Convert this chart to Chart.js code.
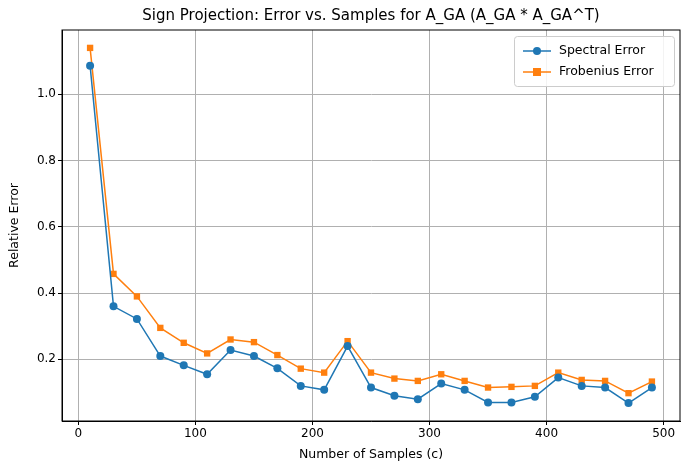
<!DOCTYPE html>
<html>
<head>
<meta charset="utf-8">
<script src="https://cdn.jsdelivr.net/npm/chart.js@4/dist/chart.umd.min.js"></script>
<style>
  html, body { margin: 0; padding: 0; background: #fff; }
  #wrap { width: 691px; height: 470px; }
</style>
</head>
<body>
<div id="wrap"><canvas id="chart"></canvas></div>
<script>
const samples = [10, 30, 50, 70, 90, 110, 130, 150, 170, 190, 210, 230, 250,
  270, 290, 310, 330, 350, 370, 390, 410, 430, 450, 470, 490];
const spectralError = [1.086, 0.36, 0.322, 0.21, 0.182, 0.155, 0.228, 0.21, 0.173,
  0.12, 0.108, 0.24, 0.115, 0.09, 0.08, 0.127, 0.108, 0.07, 0.07, 0.087, 0.145,
  0.12, 0.115, 0.068, 0.115];
const frobeniusError = [1.14, 0.458, 0.39, 0.295, 0.25, 0.218, 0.26, 0.252, 0.213,
  0.172, 0.16, 0.255, 0.16, 0.142, 0.135, 0.155, 0.135, 0.115, 0.117, 0.12, 0.16,
  0.138, 0.135, 0.098, 0.133];
const xTicks = [0, 100, 200, 300, 400, 500];
const yTicks = [0.2, 0.4, 0.6, 0.8, 1.0];

const FONT = "'DejaVu Sans', sans-serif";
const BLUE = "#1f77b4";
const ORANGE = "#ff7f0e";

// titre + légende dessinés à la main (légende à l'intérieur du graphe)
const overlay = {
  id: "overlay",
  afterDraw(chart) {
    const { ctx, chartArea } = chart;
    ctx.save();
    ctx.fillStyle = "#000";
    ctx.font = `15px ${FONT}`;
    ctx.textAlign = "center";
    ctx.textBaseline = "bottom";
    ctx.fillText("Sign Projection: Error vs. Samples for A_GA (A_GA * A_GA^T)",
      (chartArea.left + chartArea.right) / 2, chartArea.top - 6);

    const w = 160, h = 50;
    const x = chartArea.right - w - 6, y = chartArea.top + 6;
    ctx.fillStyle = "rgba(255,255,255,0.85)";
    ctx.strokeStyle = "#ccc";
    ctx.lineWidth = 1;
    ctx.beginPath();
    ctx.roundRect(x + 0.5, y + 0.5, w, h, 3);
    ctx.fill();
    ctx.stroke();
    ctx.font = `12.5px ${FONT}`;
    ctx.textAlign = "left";
    ctx.textBaseline = "middle";
    [["Spectral Error", BLUE, "circle"], ["Frobenius Error", ORANGE, "rect"]]
      .forEach(([label, color, shape], i) => {
        const ly = y + 15 + i * 21;
        ctx.strokeStyle = color;
        ctx.lineWidth = 1.5;
        ctx.beginPath();
        ctx.moveTo(x + 9, ly);
        ctx.lineTo(x + 37, ly);
        ctx.stroke();
        ctx.fillStyle = color;
        if (shape === "circle") {
          ctx.beginPath();
          ctx.arc(x + 23, ly, 4, 0, Math.PI * 2);
          ctx.fill();
        } else {
          ctx.fillRect(x + 19, ly - 4, 8, 8);
        }
        ctx.fillStyle = "#000";
        ctx.fillText(label, x + 45, ly);
      });
    ctx.restore();
  },
};

const keepTicks = (list) => (scale) => {
  scale.ticks = list.map((v) => ({ value: v }));
};

new Chart(document.getElementById("chart"), {
  type: "line",
  data: {
    labels: samples,
    datasets: [
      {
        label: "Spectral Error",
        data: samples.map((s, i) => ({ x: s, y: spectralError[i] })),
        borderColor: BLUE,
        backgroundColor: BLUE,
        borderWidth: 1.5,
        pointStyle: "circle",
        pointRadius: 4,
        pointBorderWidth: 0,
      },
      {
        label: "Frobenius Error",
        data: samples.map((s, i) => ({ x: s, y: frobeniusError[i] })),
        borderColor: ORANGE,
        backgroundColor: ORANGE,
        borderWidth: 1.5,
        pointStyle: "rect",
        pointRadius: 4.5,
        pointBorderWidth: 0,
      },
    ],
  },
  options: {
    responsive: true,
    maintainAspectRatio: false,
    animation: false,
    layout: { padding: { top: 30, right: 11, left: 3, bottom: 8 } },
    scales: {
      x: {
        type: "linear",
        min: -14,
        max: 514,
        afterBuildTicks: keepTicks(xTicks),
        afterFit: (s) => { s.height = 41; },
        ticks: { color: "#000", font: { family: FONT, size: 12 }, padding: 2 },
        grid: { color: "#b0b0b0", tickColor: "#000", tickLength: 4 },
        border: { color: "#000", width: 1 },
        title: {
          display: true,
          text: "Number of Samples (c)",
          color: "#000",
          font: { family: FONT, size: 12.5 },
          padding: { top: 0, bottom: 0 },
        },
      },
      y: {
        min: 0.014,
        max: 1.194,
        afterBuildTicks: keepTicks(yTicks),
        afterFit: (s) => { s.width = 59; },
        ticks: {
          color: "#000",
          font: { family: FONT, size: 12 },
          padding: 2,
          callback: (v) => v.toFixed(1),
        },
        grid: { color: "#b0b0b0", tickColor: "#000", tickLength: 4 },
        border: { color: "#000", width: 1 },
        title: {
          display: true,
          text: "Relative Error",
          color: "#000",
          font: { family: FONT, size: 12.5 },
        },
      },
    },
    plugins: {
      legend: { display: false },
      title: { display: false },
      tooltip: { enabled: false },
    },
  },
  plugins: [
    overlay,
    {
      id: "frame",
      afterDatasetsDraw(chart) {
        const { ctx, chartArea: a } = chart;
        ctx.save();
        ctx.strokeStyle = "#000";
        ctx.lineWidth = 1;
        ctx.strokeRect(a.left, a.top, a.right - a.left, a.bottom - a.top);
        ctx.restore();
      },
    },
  ],
});
</script>
</body>
</html>
